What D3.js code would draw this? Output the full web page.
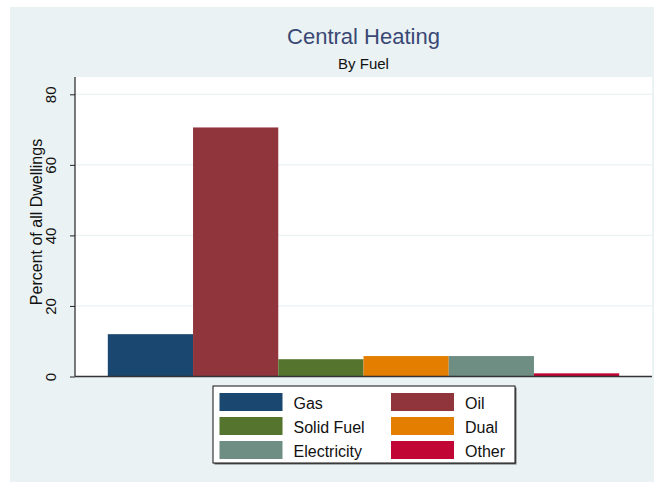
<!DOCTYPE html>
<html>
<head>
<meta charset="utf-8">
<script src="https://cdn.jsdelivr.net/npm/d3@7"></script>
<style>
  body { margin: 0; background: #fff; }
  text { font-family: "Liberation Sans", Arial, sans-serif; }
</style>
</head>
<body>
<svg id="chart" width="659" height="482"></svg>
<script>
// data
var fuels = ['Gas', 'Oil', 'Solid Fuel', 'Dual', 'Electricity', 'Other']
var percents = [12.0, 70.6, 4.9, 5.8, 5.8, 0.9]
var fuelColors = ['#1a476f', '#90353b', '#55752f', '#e37e00', '#6e8e84', '#c10534']
var yTicks = [0, 20, 40, 60, 80]

var svg = d3.select('#chart')
var bgColor = '#eaf2f3'

// graph region
svg.append('rect')
	.attr('x', 10).attr('y', 7)
	.attr('width', 644).attr('height', 475)
	.attr('fill', bgColor)

var plotLeft = 75, plotRight = 652, plotTop = 77, plotBottom = 376.5

svg.append('rect')
	.attr('x', plotLeft).attr('y', plotTop)
	.attr('width', plotRight - plotLeft).attr('height', plotBottom - plotTop)
	.attr('fill', '#fff')

var yScale = d3.scaleLinear()
	.domain([0, 80])
	.range([plotBottom, 94.3])

var xScale = d3.scaleBand()
	.domain(fuels)
	.range([plotLeft, plotRight])
	.paddingInner(0)
	.paddingOuter(0.385)

// gridlines
svg.append('g')
	.selectAll('line')
	.data(yTicks.filter(d => d > 0))
	.enter()
	.append('line')
	.attr('x1', plotLeft).attr('x2', plotRight)
	.attr('y1', d => yScale(d)).attr('y2', d => yScale(d))
	.style('stroke', bgColor)
	.style('stroke-width', 1.2)

// bars
svg.append('g')
	.selectAll('rect')
	.data(fuels)
	.enter()
	.append('rect')
	.attr('x', d => xScale(d))
	.attr('width', xScale.bandwidth())
	.attr('y', (d, i) => yScale(percents[i]))
	.attr('height', (d, i) => plotBottom - yScale(percents[i]))
	.attr('fill', (d, i) => fuelColors[i])

// y axis
var yAxis = svg.append('g')
	.attr('transform', 'translate(' + plotLeft + ',0)')
	.call(d3.axisLeft(yScale).tickValues(yTicks).tickSize(5).tickPadding(0).tickFormat(d3.format('d')))
yAxis.select('.domain').attr('d', 'M0,' + plotTop + 'V' + plotBottom).style('stroke', '#222').style('stroke-width', 1.2)
yAxis.selectAll('.tick line').style('stroke', '#222')
yAxis.selectAll('.tick text')
	.attr('x', null).attr('dy', null)
	.attr('transform', 'translate(-19,0) rotate(-90)')
	.attr('text-anchor', 'middle')
	.style('font-size', '15px')
	.style('fill', '#111')

// x axis line
svg.append('line')
	.attr('x1', plotLeft).attr('x2', plotRight)
	.attr('y1', plotBottom).attr('y2', plotBottom)
	.style('stroke', '#333')
	.style('stroke-width', 1.5)

// titles
svg.append('text')
	.attr('x', (plotLeft + plotRight) / 2).attr('y', 44)
	.attr('text-anchor', 'middle')
	.style('font-size', '22px')
	.style('fill', '#3a4875')
	.text('Central Heating')
svg.append('text')
	.attr('x', (plotLeft + plotRight) / 2).attr('y', 69)
	.attr('text-anchor', 'middle')
	.style('font-size', '15px')
	.style('fill', '#111')
	.text('By Fuel')
svg.append('text')
	.attr('transform', 'translate(42,222) rotate(-90)')
	.attr('text-anchor', 'middle')
	.style('font-size', '16px')
	.style('fill', '#111')
	.text('Percent of all Dwellings')

// legend
var legend = svg.append('g')
legend.append('rect')
	.attr('x', 214.5).attr('y', 387.5)
	.attr('width', 302).attr('height', 77)
	.attr('fill', '#666')
legend.append('rect')
	.attr('x', 213).attr('y', 386)
	.attr('width', 302).attr('height', 77)
	.attr('fill', '#fff')
	.style('stroke', '#111')
	.style('stroke-width', 1)

var items = legend.selectAll('g.item')
	.data(fuels)
	.enter()
	.append('g')
	.attr('class', 'item')
	.attr('transform', (d, i) => 'translate(' + (i % 2 == 0 ? 219.5 : 391) + ',' + (393 + Math.floor(i / 2) * 24) + ')')
items.append('rect')
	.attr('width', 63).attr('height', 18)
	.attr('fill', (d, i) => fuelColors[i])
items.append('text')
	.attr('x', 74).attr('y', 16)
	.style('font-size', '16px')
	.style('fill', '#111')
	.text(d => d)
</script>
</body>
</html>
